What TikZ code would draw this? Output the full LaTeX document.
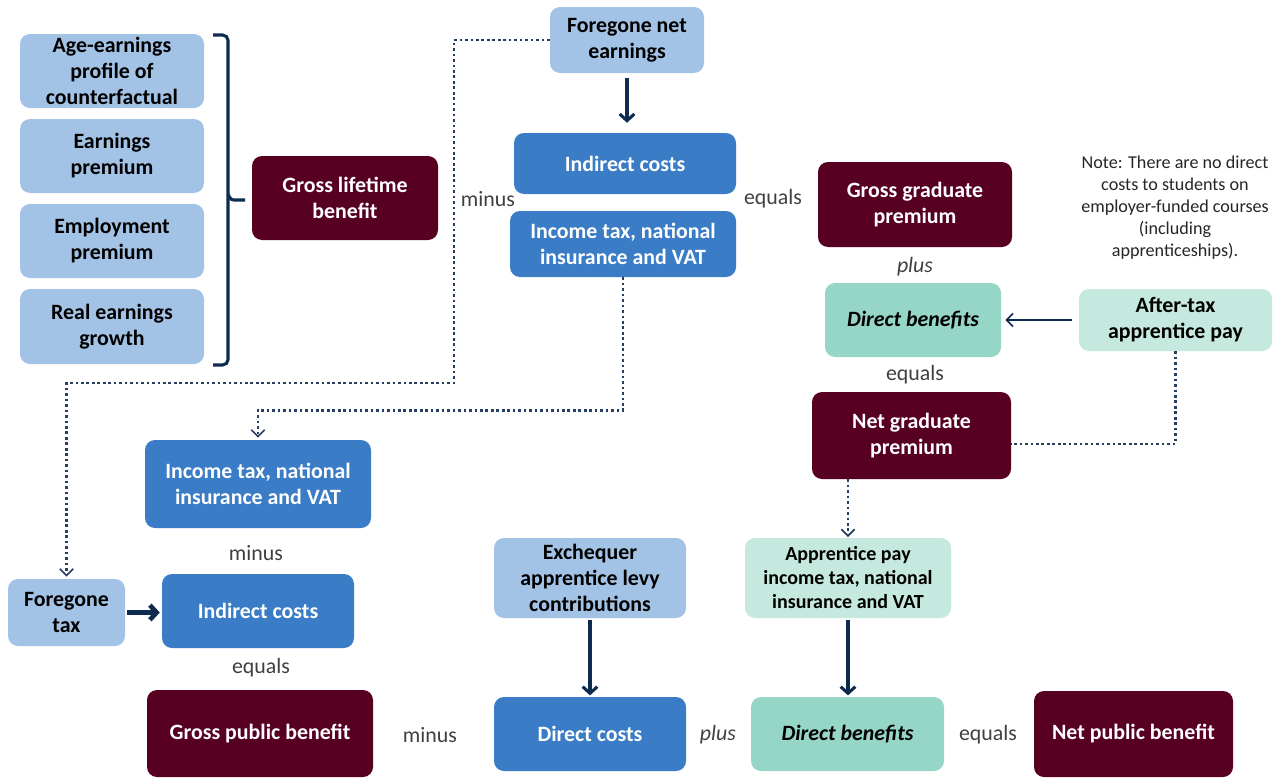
\documentclass[tikz,border=0pt]{standalone}
\usepackage{fontspec}
\setmainfont{Carlito}
\usetikzlibrary{arrows.meta}
\definecolor{lblue}{HTML}{A3C3E6}
\definecolor{mblue}{HTML}{3A7CC5}
\definecolor{maroon}{HTML}{570022}
\definecolor{tealA}{HTML}{96D6C7}
\definecolor{tealB}{HTML}{C5E8DF}
\definecolor{navy}{HTML}{0E2A4E}
\definecolor{labgrey}{HTML}{404040}
\tikzset{
 frame/.style n args={4}{at={({(#1+#3)/2},{(#2+#4)/2})}, minimum width={(#3-#1)*0.75pt}, minimum height={(#4-#2)*0.75pt}},
 box/.style={rounded corners=7.5pt, inner sep=0pt, align=center, font=\bfseries\fontsize{16.4}{19.5}\selectfont},
 lbbox/.style={box, fill=lblue, text=black},
 mbbox/.style={box, fill=mblue, text=white},
 mrbox/.style={box, fill=maroon, text=white},
 tabox/.style={box, fill=tealA, text=black},
 tbbox/.style={box, fill=tealB, text=black},
 lbl/.style={text=labgrey, font=\fontsize{16.4}{19.5}\selectfont, inner sep=0pt},
 thickarrow/.style={draw=navy, line width=2.3pt, -{Straight Barb[length=5pt,width=11pt]}},
 dotline/.style={draw=navy!90!white, line width=2pt, dash pattern=on 2pt off 2.1pt},
 dotarrow/.style={dotline, -{Straight Barb[length=5pt,width=10pt,line width=1.3pt]}},
}
\begin{document}
\begin{tikzpicture}[x=0.75pt,y=-0.75pt]
\fill[white] (0,0) rectangle (1279,778);
\useasboundingbox (0,0) rectangle (1279,778);

% left column
\node[lbbox, frame={20}{34}{204}{108}] (age) {Age-earnings\\profile of\\counterfactual};
\node[lbbox, frame={20}{119}{204}{193}] (earn) {Earnings\\premium};
\node[lbbox, frame={20}{204}{204}{278}] (empl) {Employment\\premium};
\node[lbbox, frame={20}{289}{204}{364}] (real) {Real earnings\\growth};
\draw[navy, line width=2.3pt, rounded corners=4pt] (213,35) -- (228,35) -- (228,365) -- (213,365);
\draw[navy, line width=2.3pt, rounded corners=2pt] (228,194) -- (231,200) -- (245,200);
\node[mrbox, frame={252}{156}{438}{240}] (glb) {Gross lifetime\\benefit};

% top middle
\node[lbbox, frame={550}{7}{704}{73}] (fne) {Foregone net\\earnings};
\node[mbbox, frame={514}{133}{736}{194}] (ic1) {Indirect costs};
\node[mbbox, frame={510}{211}{736}{277}] (itx1) {Income tax, national\\insurance and VAT};
\node[lbl] (l1) at (488,199) {minus};
\node[lbl] (l2) at (773,199) {equals};

% right
\node[mrbox, frame={818}{162}{1012}{247}] (ggp) {Gross graduate\\premium};
\node[lbl, font=\itshape\fontsize{16.4}{19.5}\selectfont] (l3) at (915,267) {plus};
\node[tabox, frame={825}{283}{1001}{357}] (db1) {\itshape Direct benefits};
\node[tbbox, frame={1079}{289}{1272}{351}] (atp) {After-tax\\apprentice pay};
\node[lbl] (l4) at (915,375) {equals};
\node[mrbox, frame={812}{392}{1011}{479}] (ngp) {Net graduate\\premium};
\node[align=center, inner sep=0pt, text=black!85, font=\fontsize{13.6}{16.5}\selectfont] (note) at (1175,208) {Note: There are no direct\\costs to students on\\employer-funded courses\\(including\\apprenticeships).};

% lower left
\node[mbbox, frame={145}{440}{371}{528}] (itx2) {Income tax, national\\insurance and VAT};
\node[lbl] (l5) at (256,553) {minus};
\node[lbbox, frame={8}{579}{125}{646}] (ftax) {Foregone\\tax};
\node[mbbox, frame={162}{574}{354}{648}] (ic2) {Indirect costs};
\node[lbl] (l6) at (261,668) {equals};
\node[mrbox, frame={147}{690}{373}{777}] (gpb) {Gross public benefit};

% bottom
\node[lbl] (l7) at (430,735) {minus};
\node[lbbox, frame={494}{538}{686}{618}] (exch) {Exchequer\\apprentice levy\\contributions};
\node[mbbox, frame={494}{697}{686}{771}] (dc) {Direct costs};
\node[lbl, font=\itshape\fontsize{16.4}{19.5}\selectfont] (l8) at (718,735) {plus};
\node[tbbox, frame={745}{538}{951}{618}, font=\bfseries\fontsize{15}{18}\selectfont] (apit) {Apprentice pay\\income tax, national\\insurance and VAT};
\node[tabox, frame={751}{697}{944}{771}] (db2) {\itshape Direct benefits};
\node[lbl] (l9) at (988,735) {equals};
\node[mrbox, frame={1034}{691}{1233}{777}] (npb) {Net public benefit};

% connectors
\coordinate (c1) at (0,444);
\draw[thickarrow, shorten <=3.75pt, shorten >=7.5pt] (fne.south) -- (fne.south |- ic1.north);
\draw[dotarrow, shorten >=1.5pt] (fne.west) -| (454,383) -| (ftax.north);
\draw[dotarrow, shorten >=1.5pt] (itx1.south) -- ++(0,133) -| (itx2.north);
\draw[dotline] (atp.south) |- (ngp.east |- c1);
\draw[dotarrow, shorten >=0.5pt] (apit.north |- ngp.south) -- (apit.north);
\draw[navy, line width=1.2pt, -{Straight Barb[length=5pt,width=10pt]}, shorten <=5pt, shorten >=3pt] (atp.west) -- (atp.west -| db1.east);
\draw[thickarrow, line width=3.5pt, shorten <=1.5pt, shorten >=1.5pt] (ftax.east) -- (ftax.east -| ic2.west);
\draw[thickarrow, shorten <=1pt, shorten >=1pt] (exch.south) -- (dc.north);
\draw[thickarrow, shorten <=1pt, shorten >=1pt] (apit.south) -- (apit.south |- db2.north);
\end{tikzpicture}
\end{document}
